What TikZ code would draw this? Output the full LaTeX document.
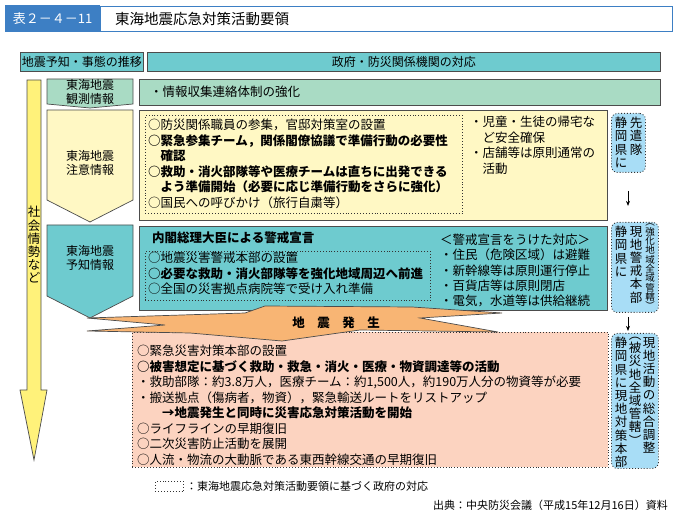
\documentclass[tikz,border=0pt]{standalone}
\usepackage{fontspec}
\setmainfont{Noto Sans CJK JP}
\usetikzlibrary{arrows.meta}
\definecolor{tblue}{HTML}{3D7FC4}
\definecolor{tteal}{HTML}{6ECBCF}
\definecolor{tgreen}{HTML}{A9DBC4}
\definecolor{tyel}{HTML}{FFF8C4}
\definecolor{tpink}{HTML}{FCD3C0}
\definecolor{torange}{HTML}{F8B574}
\definecolor{tlblue}{HTML}{A8DDF6}
\definecolor{tyarrow}{HTML}{FFF27A}
\begin{document}
\begin{tikzpicture}[x=1pt,y=-1pt,
  every node/.style={font=\fontsize{12.5}{15.5}\selectfont,inner sep=0pt},
  txt/.style={anchor=north west,align=left},
  frame/.style={draw=black!70,line width=0.7pt},
  dotbox/.style={draw=black!80,dotted,line width=0.9pt},
  vbox/.style={draw=black!80,dotted,line width=0.9pt,fill=tlblue,rounded corners=6pt},
  vcol/.style={align=center,font=\fontsize{12.5}{13.2}\selectfont},
  hdr/.style={font=\fontsize{12}{14.5}\selectfont}]
\useasboundingbox (0,0) rectangle (680,518);
% title
\node[fill=tblue,minimum width=95,minimum height=27,anchor=north west,text=white,font=\fontsize{13}{15}\selectfont] (tnum) at (5,5) {表２－４－11};
\node[draw=tblue,line width=1.2pt,fill=white,minimum width=572,minimum height=25,anchor=north west] (tbox) at (100,6) {};
\node[anchor=west,font=\fontsize{14.5}{16}\selectfont] (ttl) at (115,19) {東海地震応急対策活動要領};
% headers
\node[frame,fill=tteal,minimum width=123,minimum height=19,anchor=north west,hdr] (h1) at (20,52) {地震予知・事態の推移};
\node[frame,fill=tteal,minimum width=513,minimum height=19,anchor=north west,hdr] (h2) at (147,52) {政府・防災関係機関の対応};
% yellow vertical arrow
\draw[frame,fill=tyarrow] (27,80)--(41,80)--(41,390)--(47,390)--(34,460)--(20,390)--(27,390)--cycle;
\node[vcol] (sh) at (34,245) {社\\会\\情\\勢\\な\\ど};
% left chevrons
\draw[frame,fill=tgreen] (47,79)--(133,79)--(133,104)--(90,108)--(47,104)--cycle;
\node[align=center,hdr,font=\fontsize{12}{13.5}\selectfont] (c1) at (90,92) {東海地震\\観測情報};
\draw[frame,fill=tyel] (47,110)--(133,110)--(133,200)--(90,222)--(47,200)--cycle;
\node[align=center,hdr] (c2) at (90,163) {東海地震\\注意情報};
\draw[frame,fill=tteal] (47,225)--(133,225)--(133,296)--(90,318)--(47,296)--cycle;
\node[align=center,hdr] (c3) at (90,258) {東海地震\\予知情報};
% green box
\node[frame,fill=tgreen,minimum width=521,minimum height=26,anchor=north west] (g) at (139,79) {};
\node[anchor=west] (gt) at (150,92) {・情報収集連絡体制の強化};
% yellow box
\node[frame,fill=tyel,minimum width=468,minimum height=110,anchor=north west] (y) at (139,110) {};
\node[dotbox,minimum width=317,minimum height=98,anchor=north west] (yd) at (145,115) {};
\node[txt] (yt) at (148,119) {○防災関係職員の参集，官邸対策室の設置\\
\textbf{○緊急参集チーム，関係閣僚協議で準備行動の必要性}\\
\textbf{\hphantom{○}確認}\\
\textbf{○救助・消火部隊等や医療チームは直ちに出発できる}\\
\textbf{\hphantom{○}よう準備開始（必要に応じ準備行動をさらに強化）}\\
○国民への呼びかけ（旅行自粛等）};
\node[txt] (yr) at (470,116) {・児童・生徒の帰宅な\\\hphantom{・}ど安全確保\\・店舗等は原則通常の\\\hphantom{・}活動};
% teal box
\node[frame,fill=tteal,minimum width=468,minimum height=84,anchor=north west] (t) at (139,226) {};
\node[anchor=west,font=\bfseries\fontsize{12.5}{15}\selectfont] (tt) at (152,238) {内閣総理大臣による警戒宣言};
\node[dotbox,minimum width=285,minimum height=49,anchor=north west] (td) at (145,251) {};
\node[txt] (tl) at (148,252) {○地震災害警戒本部の設置\\\textbf{○必要な救助・消火部隊等を強化地域周辺へ前進}\\○全国の災害拠点病院等で受け入れ準備};
\node[txt,font=\fontsize{12.5}{15.2}\selectfont] (tr) at (440,234) {＜警戒宣言をうけた対応＞\\・住民（危険区域）は避難\\・新幹線等は原則運行停止\\・百貨店等は原則閉店\\・電気，水道等は供給継続};
% pink box
\node[dotbox,fill=tpink,minimum width=476,minimum height=135,anchor=north west] (p) at (132,332) {};
% lightning
\draw[frame,fill=torange] (87,318)--(245,313)--(265,306)--(412,307)--(502,313)--(420,318)--(498,332)--(360,330)--(282,341)--(190,333)--(87,331)--(165,325)--cycle;
\node[font=\bfseries\fontsize{12.5}{15}\selectfont] (eq) at (336,323) {地\hspace{1em}震\hspace{1em}発\hspace{1em}生};
\node[txt] (pt) at (137,345) {○緊急災害対策本部の設置\\
\textbf{○被害想定に基づく救助・救急・消火・医療・物資調達等の活動}\\
・救助部隊：約3.8万人，医療チーム：約1,500人，約190万人分の物資等が必要\\
・搬送拠点（傷病者，物資），緊急輸送ルートをリストアップ\\
\textbf{\hspace{2em}→地震発生と同時に災害応急対策活動を開始}\\
○ライフラインの早期復旧\\
○二次災害防止活動を展開\\
○人流・物流の大動脈である東西幹線交通の早期復旧};
% right column
\node[vbox,minimum width=34,minimum height=59,anchor=north west] (b1) at (611,113) {};
\node[vcol,anchor=north] (b1a) at (636,117) {先\\遣\\隊};
\node[vcol,anchor=north] (b1b) at (621,117) {静\\岡\\県\\に};
\node[vbox,minimum width=47,minimum height=90,anchor=north west] (b2) at (611,222) {};
\node[vcol,anchor=north,font=\fontsize{9.5}{9.3}\selectfont] (b2a) at (650,224) {︵\\強\\化\\地\\域\\全\\域\\管\\轄\\︶};
\node[vcol,anchor=north] (b2b) at (636,226) {現\\地\\警\\戒\\本\\部};
\node[vcol,anchor=north] (b2c) at (621,226) {静\\岡\\県\\に};
\node[vbox,minimum width=47,minimum height=135,anchor=north west] (b3) at (611,333) {};
\node[vcol,anchor=north] (b3a) at (649,337) {現\\地\\活\\動\\の\\総\\合\\調\\整};
\node[vcol,anchor=north] (b3b) at (635,337) {︵\\被\\災\\地\\全\\域\\管\\轄\\︶};
\node[vcol,anchor=north] (b3c) at (621,337) {静\\岡\\県\\に\\現\\地\\対\\策\\本\\部};
\draw[-{Stealth[length=5pt,width=4pt]},line width=0.8pt] (b1.south -| 628,0) ++(0,18) -- ++(0,15);
\draw[-{Stealth[length=5pt,width=4pt]},line width=0.8pt] (b2.south -| 628,0) ++(0,4) -- ++(0,14);
% legend & source
\node[dotbox,minimum width=28,minimum height=10,anchor=north west] (lg) at (155,481) {};
\node[anchor=west,font=\fontsize{11}{13}\selectfont] (lgt) at (186,486) {：東海地震応急対策活動要領に基づく政府の対応};
\node[anchor=east,font=\fontsize{11}{13}\selectfont] (src) at (668,505) {出典：中央防災会議（平成15年12月16日）資料};
\end{tikzpicture}
\end{document}
